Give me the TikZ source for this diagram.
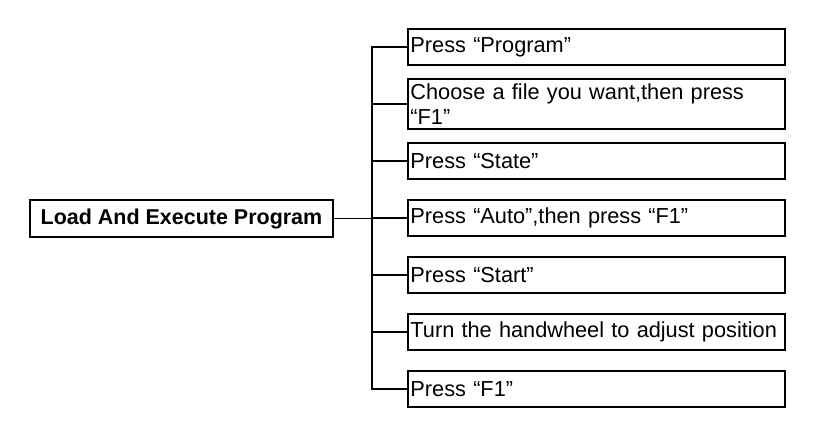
\documentclass[tikz,border=0pt]{standalone}
\usepackage{fontspec}
\setmainfont{Liberation Sans}
\usetikzlibrary{positioning}

\begin{document}
\begin{tikzpicture}[x=0.75pt, y=-0.75pt,
                    every node/.style = {font=\fontsize{16.3}{19}\selectfont},
                    stepbox/.style = {draw, line width=1.2pt, minimum height=27pt,
                                      text width=279pt, inner xsep=2pt, align=left, anchor=west},
                    mainbox/.style = {draw, line width=1.2pt, minimum height=27.75pt,
                                      minimum width=227pt, font=\fontsize{16.1}{19}\selectfont\bfseries}]
    \useasboundingbox (0,0) rectangle (836,432);
    \node (load) [mainbox] at (181.5,218.5) {Load And Execute Program};
    \coordinate (j) at (372,218.5);
    \draw[line width=1.2pt] (load) -- (j);
    \foreach \txt [count=\i] in {Press “Program”,
                                 {Choose a file you want,then press “F1”},
                                 Press “State”,
                                 {Press “Auto”,then press “F1”},
                                 Press “Start”,
                                 Turn the handwheel to adjust position,
                                 Press “F1”} {
        \node (r\i) [stepbox] at (407,{47+57*(\i-1)}) {\txt};
        \draw[line width=1.2pt] (j) |- (r\i.west);
    }
\end{tikzpicture}
\end{document}
